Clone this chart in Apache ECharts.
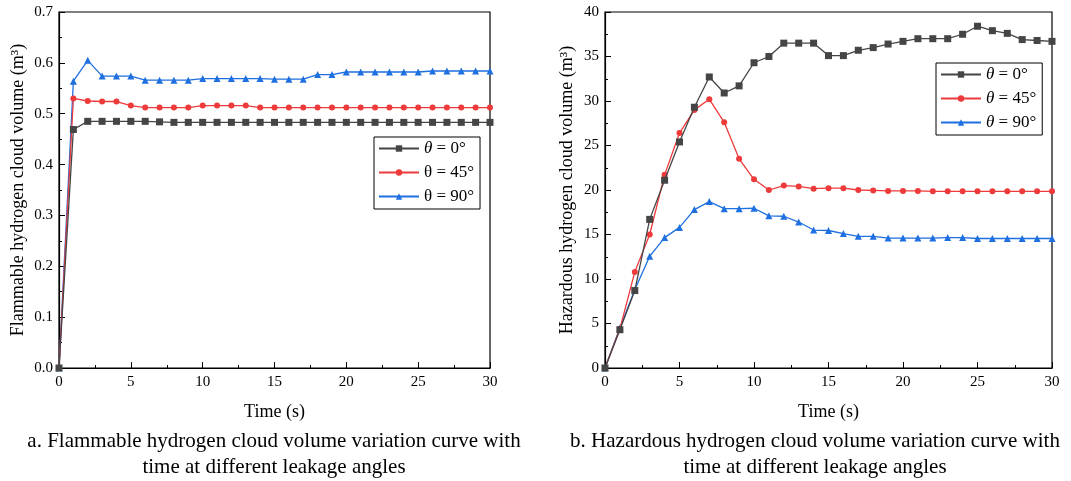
<!DOCTYPE html>
<html>
<head>
<meta charset="utf-8">
<script src="https://cdn.jsdelivr.net/npm/echarts@6/dist/echarts.min.js"></script>
<style>
html,body{margin:0;padding:0;background:#fff;}
#c{width:1071px;height:481px;}
</style>
</head>
<body>
<div id="c"></div>
<script>
var time = [0,1,2,3,4,5,6,7,8,9,10,11,12,13,14,15,16,17,18,19,20,21,22,23,24,25,26,27,28,29,30];

var flam0  = [0,0.469,0.485,0.485,0.485,0.485,0.485,0.484,0.483,0.483,0.483,0.483,0.483,0.483,0.483,0.483,0.483,0.483,0.483,0.483,0.483,0.483,0.483,0.483,0.483,0.483,0.483,0.483,0.483,0.483,0.483];
var flam45 = [0,0.530,0.525,0.524,0.524,0.516,0.512,0.512,0.512,0.512,0.516,0.516,0.516,0.516,0.512,0.512,0.512,0.512,0.512,0.512,0.512,0.512,0.512,0.512,0.512,0.512,0.512,0.512,0.512,0.512,0.512];
var flam90 = [0,0.564,0.605,0.574,0.574,0.574,0.566,0.566,0.566,0.566,0.569,0.569,0.569,0.569,0.569,0.568,0.568,0.568,0.577,0.577,0.582,0.582,0.582,0.582,0.582,0.582,0.584,0.584,0.584,0.584,0.584];

var haz0  = [0,4.3,8.7,16.7,21.1,25.4,29.3,32.7,30.9,31.7,34.3,35.0,36.5,36.5,36.5,35.1,35.1,35.7,36.0,36.4,36.7,37.0,37.0,37.0,37.5,38.4,37.9,37.6,36.9,36.8,36.7];
var haz45 = [0,4.4,10.8,15.0,21.7,26.4,29.0,30.2,27.6,23.5,21.2,20.0,20.5,20.4,20.15,20.2,20.2,20.0,19.95,19.9,19.9,19.9,19.85,19.85,19.85,19.85,19.85,19.85,19.85,19.85,19.85];
var haz90 = [0,4.5,8.8,12.55,14.65,15.8,17.8,18.7,17.9,17.9,17.95,17.1,17.05,16.4,15.5,15.45,15.1,14.8,14.8,14.6,14.6,14.6,14.6,14.65,14.65,14.55,14.55,14.55,14.55,14.55,14.55];

var leftNames  = ['θ = 0°','θ = 45°','θ = 90°'];
var rightNames = ['θ = 0° ','θ = 45° ','θ = 90° '];
var colors = ['#454545','#ee3a3a','#1e6fe0'];
var symbols = ['rect','circle','triangle'];

var captionA = ['a. Flammable hydrogen cloud volume variation curve with','time at different leakage angles'];
var captionB = ['b. Hazardous hydrogen cloud volume variation curve with','time at different leakage angles'];

var FONT = 'Liberation Serif';

function pairs(ys){ return time.map(function(t,i){ return [t, ys[i]]; }); }

function mkSeries(name, data, idx, axisIdx){
  return {
    name: name, type: 'line', xAxisIndex: axisIdx, yAxisIndex: axisIdx,
    data: pairs(data), symbol: symbols[idx], symbolSize: idx===1 ? 6 : 7,
    showSymbol: true, animation: false,
    lineStyle: {color: colors[idx], width: 1.3},
    itemStyle: {color: colors[idx]},
    z: 10 - idx
  };
}

function xAx(gi){
  return {
    type: 'value', gridIndex: gi, min: 0, max: 30, interval: 5,
    name: 'Time (s)', nameLocation: 'middle', nameGap: 35,
    nameTextStyle: {fontFamily: FONT, fontSize: 18, color: '#000'},
    axisLine: {show: true, onZero: false, lineStyle: {color: '#000', width: 1.2}},
    axisTick: {show: true, inside: true, length: 6, lineStyle: {color: '#000'}},
    minorTick: {show: true, splitNumber: 2, length: 3, lineStyle: {color: '#000'}},
    axisLabel: {fontFamily: FONT, fontSize: 15, color: '#000', margin: 7},
    splitLine: {show: false}
  };
}

function yAx(gi, max, interval, name, fmt, gap){
  return {
    type: 'value', gridIndex: gi, min: 0, max: max, interval: interval,
    name: name, nameLocation: 'middle', nameGap: gap,
    nameTextStyle: {fontFamily: FONT, fontSize: 18, color: '#000'},
    axisLine: {show: true, onZero: false, lineStyle: {color: '#000', width: 1.2}},
    axisTick: {show: true, inside: true, length: 6, lineStyle: {color: '#000'}},
    minorTick: {show: true, splitNumber: 2, length: 3, lineStyle: {color: '#000'}},
    axisLabel: {fontFamily: FONT, fontSize: 15, color: '#000', margin: 6, formatter: fmt},
    splitLine: {show: false}
  };
}

function legendFmt(name){
  var n = name.trim();
  var italic = (name !== n) || n === 'θ = 0°';
  var rest = n.substring(1);
  return italic ? '{i|θ}' + rest : '{n|θ}' + rest;
}

var legendCommon = {
  orient: 'vertical', backgroundColor: '#fff', borderColor: '#000', borderWidth: 1,
  borderRadius: 0, padding: [3, 6, 4, 4], itemGap: 7, itemWidth: 40, itemHeight: 8,
  formatter: legendFmt,
  textStyle: {fontFamily: FONT, fontSize: 17, color: '#000',
    rich: {i: {fontFamily: FONT, fontSize: 17, fontStyle: 'italic'}, n: {fontFamily: FONT, fontSize: 17}}}
};

var chart = echarts.init(document.getElementById('c'), null, {renderer: 'canvas'});
var option = {
  backgroundColor: '#fff',
  animation: false,
  grid: [
    {left: 59, width: 431, top: 12, height: 356, show: true, borderColor: '#000', borderWidth: 1.2, backgroundColor: 'transparent'},
    {left: 605, width: 447, top: 12, height: 356, show: true, borderColor: '#000', borderWidth: 1.2, backgroundColor: 'transparent'}
  ],
  xAxis: [xAx(0), xAx(1)],
  yAxis: [
    yAx(0, 0.7, 0.1, 'Flammable hydrogen cloud volume (m³)', function(v){ return v.toFixed(1); }, 32),
    yAx(1, 40, 5, 'Hazardous hydrogen cloud volume (m³)', function(v){ return String(v); }, 29)
  ],
  legend: [
    Object.assign({}, legendCommon, {data: leftNames, left: 374, top: 137}),
    Object.assign({}, legendCommon, {data: rightNames, left: 936, top: 63})
  ],
  series: [
    mkSeries(leftNames[0], flam0, 0, 0),
    mkSeries(leftNames[1], flam45, 1, 0),
    mkSeries(leftNames[2], flam90, 2, 0),
    mkSeries(rightNames[0], haz0, 0, 1),
    mkSeries(rightNames[1], haz45, 1, 1),
    mkSeries(rightNames[2], haz90, 2, 1)
  ],
  graphic: [
    {type: 'text', x: 274, y: 441, style: {text: captionA[0], fontFamily: FONT, fontSize: 21, fill: '#000', align: 'center', verticalAlign: 'middle'}},
    {type: 'text', x: 274, y: 467, style: {text: captionA[1], fontFamily: FONT, fontSize: 21, fill: '#000', align: 'center', verticalAlign: 'middle'}},
    {type: 'text', x: 815, y: 441, style: {text: captionB[0], fontFamily: FONT, fontSize: 21, fill: '#000', align: 'center', verticalAlign: 'middle'}},
    {type: 'text', x: 815, y: 467, style: {text: captionB[1], fontFamily: FONT, fontSize: 21, fill: '#000', align: 'center', verticalAlign: 'middle'}}
  ]
};
chart.setOption(option);
</script>
</body>
</html>
